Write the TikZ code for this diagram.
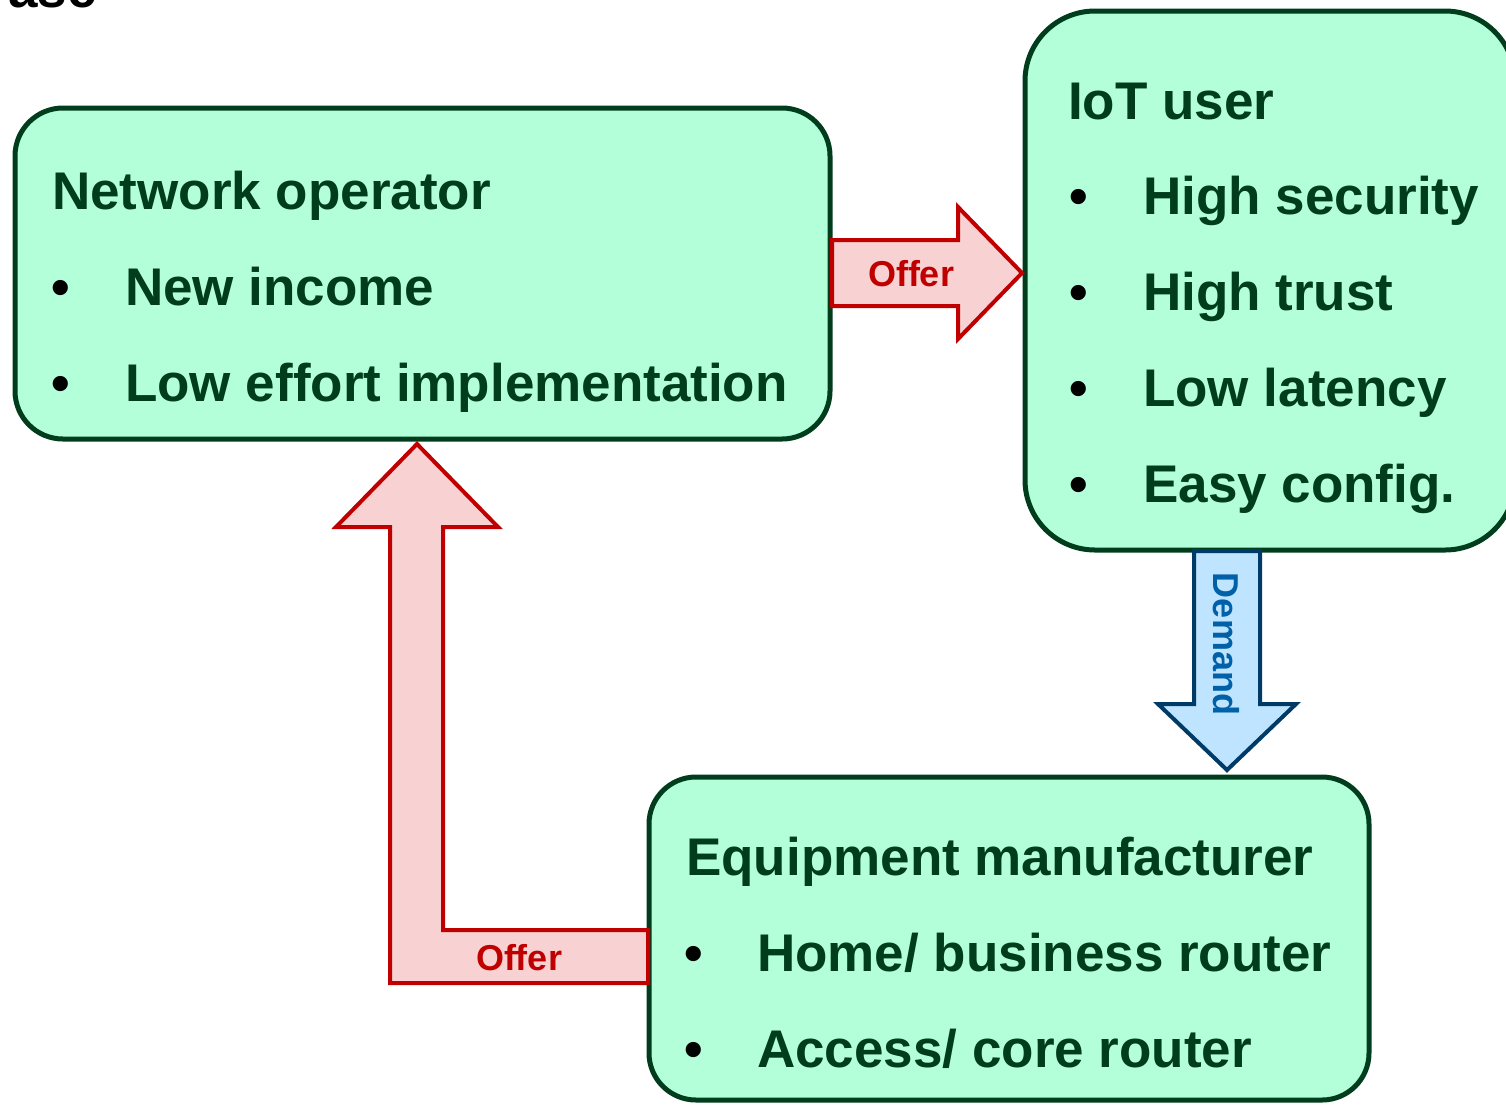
\documentclass[tikz,border=0pt]{standalone}
\usepackage{fontspec}
\setmainfont{Liberation Sans}
\definecolor{boxfill}{HTML}{B3FFD9}
\definecolor{boxline}{HTML}{003D1C}
\definecolor{boxtext}{HTML}{003D1C}
\definecolor{offerline}{HTML}{C00000}
\definecolor{offerfill}{HTML}{F8D2D2}
\definecolor{demandline}{HTML}{003A66}
\definecolor{demandfill}{HTML}{BFE4FF}
\definecolor{demandtext}{HTML}{0060A8}
\tikzset{
  party/.style={draw=boxline, fill=boxfill, line width=5pt, inner sep=0pt, rectangle},
  big/.style={font=\fontsize{53}{60}\selectfont\bfseries, inner sep=0pt, anchor=base west},
  itemtext/.style={big, text=boxtext},
  bul/.style={big, text=black},
  offerarrow/.style={draw=offerline, fill=offerfill, line width=4pt, line join=miter},
  demandarrow/.style={draw=demandline, fill=demandfill, line width=4pt, line join=miter},
  arrowlabel/.style={font=\fontsize{36}{40}\selectfont\bfseries, inner sep=0pt}
}
\begin{document}
\begin{tikzpicture}[x=1pt, y=-1pt]
\useasboundingbox (0,0) rectangle (1506,1104);

% heading, mostly above the page
\node[big, anchor=base east, text=black] (head) at (97,7) {ase};

% the three parties
\node[party, minimum width=815pt, minimum height=331pt, rounded corners=48pt] (net) at (422.5,273.5) {};
\node[party, minimum width=490pt, minimum height=539pt, rounded corners=70pt] (iot) at (1270,280.5) {};
\node[party, minimum width=720pt, minimum height=323pt, rounded corners=47pt] (equ) at (1009,938.5) {};

% offer: network operator -> IoT user
\draw[offerarrow] (832,240) -- (958,240) -- (958,207) -- (1022,273) -- (958,339) -- (958,306) -- (832,306) -- cycle;
\node[arrowlabel, text=offerline] (offer1) at (911,274) {Offer};

% demand: IoT user -> equipment manufacturer
\draw[demandarrow] (1194,551) -- (1194,704) -- (1158,704) -- (1227,770) -- (1296,704) -- (1260,704) -- (1260,551) -- cycle;
\node[arrowlabel, text=demandtext, rotate=-90] (demand) at (1226,644) {Demand};

% offer: equipment manufacturer -> network operator
\draw[offerarrow] (648,930) -- (443,930) -- (443,527) -- (498,527) -- (417,444) -- (336,527) -- (390,527) -- (390,983) -- (648,983) -- cycle;
\node[arrowlabel, text=offerline] (offer2) at (519,958) {Offer};

% network operator
\node[itemtext] (nettitle) at (52,209) {Network operator};
\node[bul] (nb1) at (51,305) {•};
\node[itemtext] (ni1) at (125,305) {New income};
\node[bul] (nb2) at (51,401) {•};
\node[itemtext] (ni2) at (125,401) {Low effort implementation};

% IoT user
\node[itemtext] (iottitle) at (1068,119) {IoT user};
\node[bul] (ib1) at (1069,214) {•};
\node[itemtext] (ii1) at (1143,214) {High security};
\node[bul] (ib2) at (1069,310) {•};
\node[itemtext] (ii2) at (1143,310) {High trust};
\node[bul] (ib3) at (1069,406) {•};
\node[itemtext] (ii3) at (1143,406) {Low latency};
\node[bul] (ib4) at (1069,502) {•};
\node[itemtext] (ii4) at (1143,502) {Easy config.};

% equipment manufacturer
\node[itemtext] (equtitle) at (686,875) {Equipment manufacturer};
\node[bul] (eb1) at (684,971) {•};
\node[itemtext] (ei1) at (757,971) {Home/ business router};
\node[bul] (eb2) at (684,1067) {•};
\node[itemtext] (ei2) at (757,1067) {Access/ core router};
\end{tikzpicture}
\end{document}
